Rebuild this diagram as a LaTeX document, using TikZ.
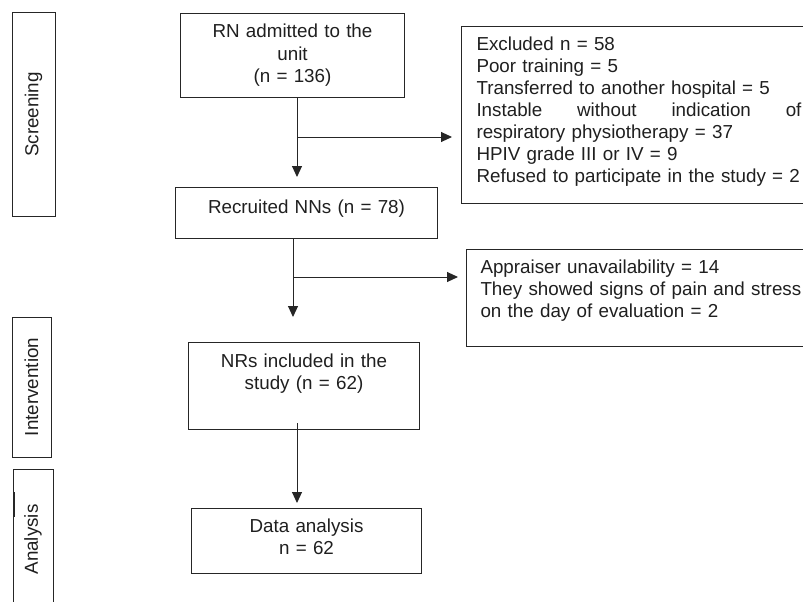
\documentclass[tikz,border=0pt]{standalone}
\usepackage{fontspec}
\setmainfont{Liberation Sans}
\usetikzlibrary{arrows.meta}

\tikzset{
  stage/.style={draw=black!85, line width=1pt, inner ysep=0pt, inner xsep=0pt, align=center, anchor=north west},
  note/.style={draw=black!85, line width=1pt, inner ysep=0pt, align=left, anchor=north west, text width=330pt},
  phase/.style={draw=black!85, line width=1pt, rotate=90, inner sep=0pt},
  flow/.style={draw=black!85, line width=1pt, -{Triangle[length=11pt,width=10pt]}},
}

\begin{document}
\begin{tikzpicture}[x=1pt,y=-1pt,font={\fontsize{18.8}{22}\selectfont},text=black!88]
  \clip (0,0) rectangle (803,602);
  % phases on the left
  \node[phase, minimum width=203pt, minimum height=43pt] (screen) at (33.5,114.5) {Screening};
  \node[phase, minimum width=140pt, minimum height=39pt] (interv) at (31.5,387) {Intervention};
  \node[phase, minimum width=141pt, minimum height=40pt] (anal) at (33,539.5) {Analysis};
  \draw[line width=2.2pt, black!85] (14,492) -- (14,517);
  % main column
  \node[stage, text width=224pt, text height=24.5pt, text depth=59.5pt] (rn) at (180,13) {RN admitted to the\\ unit\\ (n = 136)};
  \node[stage, text width=262pt, text height=25.5pt, text depth=25.5pt] (rec) at (175,187) {Recruited NNs (n = 78)};
  \node[stage, text width=231pt, text height=24.7pt, text depth=62.3pt] (nrs) at (188,342) {NRs included in the\\ study (n = 62)};
  \node[stage, text width=230pt, text height=23.7pt, text depth=41.3pt] (data) at (191,508) {Data analysis\\ n = 62};
  % exclusions
  \node[note, inner xsep=15pt, text height=24pt, text depth=153pt] (excl) at (461,26) {Excluded n = 58\\
    Poor training = 5\\
    Transferred to another hospital = 5\\
    \leavevmode\hbox to 325pt{Instable\hfill without\hfill indication\hfill of}\\
    respiratory physiotherapy = 37\\
    HPIV grade III or IV = 9\\
    Refused to participate in the study = 2};
  \node[note, inner xsep=14pt, text height=24.3pt, text depth=72.7pt] (appr) at (466,249) {Appraiser unavailability = 14\\
    They showed signs of pain and stress\\
    on the day of evaluation = 2};
  % arrows
  \coordinate (s1) at (297,137);
  \coordinate (s2) at (293,277);
  \draw[flow, shorten >=10pt] (rn.south -| s1) -- (s1 |- rec.north);
  \draw[flow, shorten >=9pt] (s1) -- (s1 -| excl.west);
  \draw[flow, shorten >=25pt] (rec.south -| s2) -- (s2 |- nrs.north);
  \draw[flow, shorten >=8pt] (s2) -- (s2 -| appr.west);
  \draw[flow, shorten <=-7pt, shorten >=5pt] (nrs.south -| s1) -- (s1 |- data.north);
\end{tikzpicture}
\end{document}
